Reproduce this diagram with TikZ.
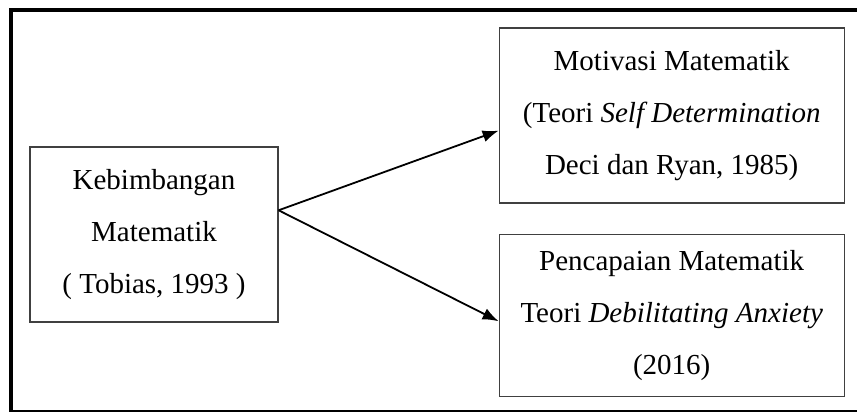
\documentclass[tikz,border=0pt]{standalone}
\usepackage{fontspec}
\setmainfont{Liberation Serif}
\usepackage{tikz}
\usetikzlibrary{arrows.meta, positioning}
\tikzstyle{teoribox} = [rectangle, draw=black!75, line width=1.2pt, fill=white, text centered, align=center, inner sep=0pt, font=\fontsize{29pt}{52pt}\selectfont]
\tikzstyle{panah} = [line width=1.8pt, -{Latex[length=16pt,width=12pt]}]

\begin{document}
\begin{tikzpicture}
    \useasboundingbox (0pt,0pt) rectangle (857pt,-412pt);
    % outer frame
    \draw [line width=4pt] (11pt,-10pt) rectangle (880pt,-412pt);

    % Boxes
    \node [teoribox, minimum width=248pt, minimum height=175pt] (kebim) at (154pt,-234.5pt) {Kebimbangan \\ Matematik \\ (\hspace{0.25em}Tobias, 1993\hspace{0.25em})};

    \node [teoribox, minimum width=345pt, minimum height=175pt, right=220pt of kebim, yshift=119pt] (motiv) {Motivasi Matematik \\ (Teori \textit{Self Determination} \\ Deci dan Ryan, 1985)};

    \node [teoribox, minimum width=345pt, minimum height=162pt, below=30pt of motiv.south, anchor=north] (pencap) {Pencapaian Matematik \\ Teori \textit{Debilitating Anxiety} \\ (2016)};

    % Arrows
    \draw [panah] (kebim.11) -- (motiv.185);
    \draw [panah] (kebim.11) -- (pencap.182);
\end{tikzpicture}
\end{document}
